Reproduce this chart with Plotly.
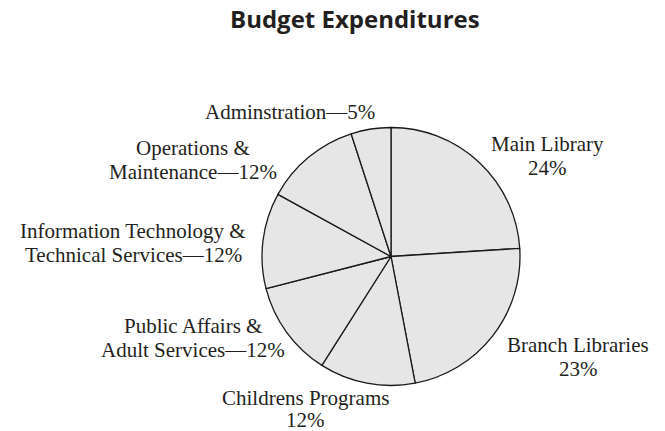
import plotly.graph_objects as go

# Data
categories = ["Main Library", "Branch Libraries", "Childrens Programs",
              "Public Affairs & Adult Services", "Information Technology & Technical Services",
              "Operations & Maintenance", "Adminstration"]
values = [24, 23, 12, 12, 12, 12, 5]
# Label text lines for each slice (as printed)
label_lines = [
    ["Main Library", "24%"],
    ["Branch Libraries", "23%"],
    ["Childrens Programs", "12%"],
    ["Public Affairs &", "Adult Services—12%"],
    ["Information Technology &", "Technical Services—12%"],
    ["Operations &", "Maintenance—12%"],
    ["Adminstration—5%"],
]

W, H = 665, 431
# layout only: centre x and first-line y (pixels) of each label block
label_pos = [(547, 144), (578, 345), (305, 398), (193, 326), (133, 231), (193, 148), (290, 112)]
LINE_GAP = 24

fig = go.Figure()
fig.add_trace(go.Pie(
    labels=categories, values=values, sort=False, direction="clockwise", rotation=0,
    textinfo="none", hoverinfo="label+percent",
    marker=dict(colors=["#e6e6e6"] * len(values), line=dict(color="#1a1a1a", width=1.3)),
    domain=dict(x=[262 / W, 520 / W], y=[1 - 386 / H, 1 - 127 / H]),
    showlegend=False,
))

annotations = []
for lines, (px, py) in zip(label_lines, label_pos):
    gap = 22 if py > 390 else LINE_GAP
    for i, line in enumerate(lines):
        annotations.append(dict(
            x=px / W, y=1 - (py + i * gap) / H, xref="paper", yref="paper",
            text=line, showarrow=False, xanchor="center", yanchor="middle",
            font=dict(family="Liberation Serif, serif", size=21, color="#231f20"),
        ))
annotations.append(dict(
    x=355 / W, y=1 - 19 / H, xref="paper", yref="paper", text="<b>Budget Expenditures</b>",
    showarrow=False, xanchor="center", yanchor="middle",
    font=dict(family="Open Sans, sans-serif", size=24, color="#231f20"),
))

fig.update_layout(
    width=W, height=H, margin=dict(l=0, r=0, t=0, b=0),
    paper_bgcolor="white", plot_bgcolor="white",
    annotations=annotations,
)
fig.write_html("out.html", config={"displayModeBar": False},
               post_script="document.body.style.margin='0';")
